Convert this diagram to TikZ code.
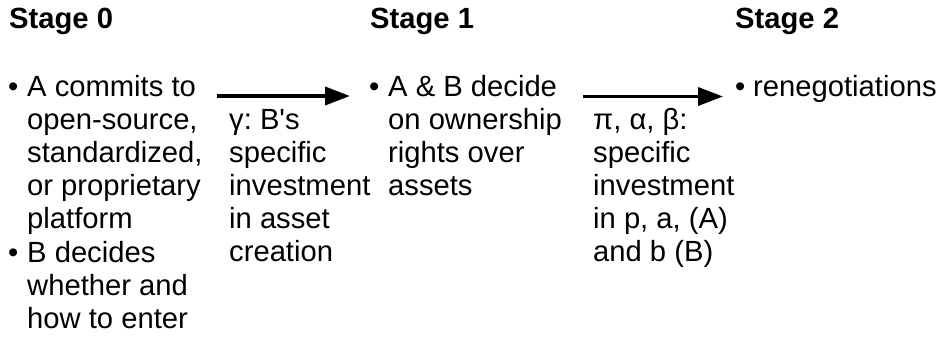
\documentclass[tikz,border=0pt]{standalone}
\usepackage{fontspec}
\setmainfont{Liberation Sans}[Ligatures=TeXOff]
\usetikzlibrary{arrows.meta}
\frenchspacing
\newcommand{\stagesize}{\fontsize{29.2}{33.2}\selectfont}
\tikzset{
  every node/.style={inner sep=0pt,anchor=base west,align=left,font=\stagesize},
  stagehead/.style={font=\stagesize\bfseries},
  stagearrow/.style={line width=3.6pt,-{Triangle[length=25pt,width=18pt]}}
}
\begin{document}
\begin{tikzpicture}[x=1pt,y=1pt]
      \useasboundingbox (0,0) rectangle (943,-337);
      % stage headings
      \node[stagehead] (h0) at (9,-29) {Stage 0};
      \node[stagehead] (h1) at (370,-29) {Stage 1};
      \node[stagehead] (h2) at (735,-29) {Stage 2};
      % stage 0 (multi-line nodes sit on the baseline of their last line)
      \node (b0a) at (8,-96) {\textbullet};
      \node (t0a) at (27,-228.8) {A commits to\\open-source,\\standardized,\\or proprietary\\platform};
      \node (b0b) at (8,-262) {\textbullet};
      \node (t0b) at (27,-328.4) {B decides\\whether and\\how to enter};
      % stage 1
      \node (b1) at (369,-96) {\textbullet};
      \node (t1) at (388,-195.6) {A \& B decide\\on ownership\\rights over\\assets};
      % stage 2
      \node (b2) at (735,-96) {\textbullet};
      \node (t2) at (753,-96) {renegotiations};
      % transitions
      \coordinate (a0s) at (217,-96);
      \coordinate (a0e) at (350,-96);
      \coordinate (a1s) at (583,-96.5);
      \coordinate (a1e) at (723,-96.5);
      \draw[stagearrow] (a0s) -- (a0e);
      \draw[stagearrow] (a1s) -- (a1e);
      \node (l0) at (229,-261.8) {γ: B's\\specific\\investment\\in asset\\creation};
      \node (l1) at (593,-261.8) {π, α, β:\\specific\\investment\\in p, a, (A)\\and b (B)};
    \end{tikzpicture}
\end{document}
